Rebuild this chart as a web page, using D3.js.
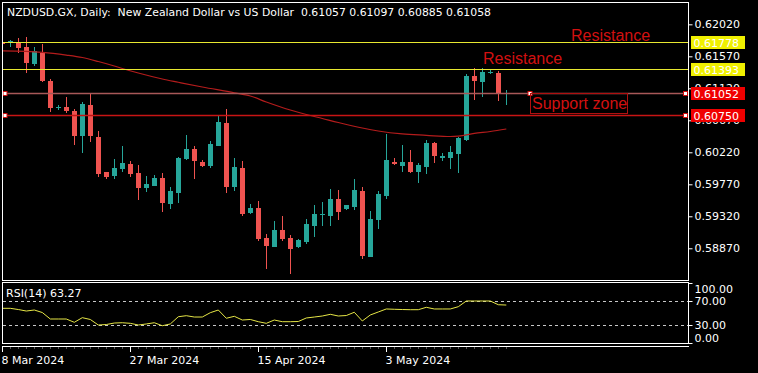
<!DOCTYPE html>
<html lang="en">
<head>
<meta charset="UTF-8">
<title>NZDUSD.GX Daily</title>
<script src="https://d3js.org/d3.v7.min.js"></script>
<style>
  body { margin: 0; background: #000; }
  svg { display: block; background: #000; }
  text { font-family: "DejaVu Sans", sans-serif; font-size: 11px; fill: #fff; }
  .note { font-family: "Liberation Sans", Arial, sans-serif; font-size: 16px; fill: #d21010; }
</style>
</head>
<body>
<svg width="758" height="373"></svg>
<script>
  // Daily sessions (broker includes Sunday candles)
  const dates = [
    "2024-03-08","2024-03-10","2024-03-11","2024-03-12","2024-03-13","2024-03-14","2024-03-15",
    "2024-03-17","2024-03-18","2024-03-19","2024-03-20","2024-03-21","2024-03-22",
    "2024-03-24","2024-03-25","2024-03-26","2024-03-27","2024-03-28","2024-03-29",
    "2024-03-31","2024-04-01","2024-04-02","2024-04-03","2024-04-04","2024-04-05",
    "2024-04-07","2024-04-08","2024-04-09","2024-04-10","2024-04-11","2024-04-12",
    "2024-04-14","2024-04-15","2024-04-16","2024-04-17","2024-04-18","2024-04-19",
    "2024-04-21","2024-04-22","2024-04-23","2024-04-24","2024-04-25","2024-04-26",
    "2024-04-28","2024-04-29","2024-04-30","2024-05-01","2024-05-02","2024-05-03",
    "2024-05-05","2024-05-06","2024-05-07","2024-05-08","2024-05-09","2024-05-10",
    "2024-05-12","2024-05-13","2024-05-14","2024-05-15","2024-05-16","2024-05-17",
    "2024-05-19","2024-05-20","2024-05-21"
  ];
  const opens = [0.61778,0.61757,0.61775,0.61697,0.61462,0.61621,0.61223,0.60843,0.60853,0.60805,0.60450,0.60885,0.60440,0.59939,0.59887,0.59986,
    0.60060,0.59934,0.59718,0.59751,0.59859,0.59493,0.59652,0.60126,0.60271,0.60088,0.60032,0.60313,0.60632,0.59737,0.60000,0.59371,
    0.59437,0.59020,0.58893,0.59128,0.59015,0.58893,0.58955,0.59184,0.59346,0.59325,0.59564,0.59427,0.59456,0.59676,0.58753,0.59268,
    0.59606,0.60088,0.60028,0.60084,0.59948,0.60018,0.60351,0.60140,0.60136,0.60196,0.60393,0.61293,0.61209,0.61331,0.61340,0.61057];
  const highs = [0.61792,0.61799,0.61832,0.61841,0.61701,0.61750,0.61251,0.60881,0.61002,0.60829,0.60932,0.61050,0.60520,0.59943,0.60126,0.60309,
    0.60094,0.60038,0.59891,0.59905,0.59934,0.59733,0.60158,0.60468,0.60309,0.60112,0.60384,0.60745,0.60829,0.60140,0.60098,0.59493,
    0.59536,0.59067,0.59259,0.59325,0.59058,0.59001,0.59283,0.59475,0.59522,0.59700,0.59690,0.59479,0.59845,0.59728,0.59395,0.59676,
    0.60478,0.60136,0.60323,0.60253,0.60066,0.60389,0.60369,0.60215,0.60309,0.60436,0.61321,0.61406,0.61399,0.61377,0.61368,0.61097];
  const lows = [0.61743,0.61701,0.61617,0.61340,0.61434,0.61202,0.60791,0.60815,0.60769,0.60323,0.60215,0.60369,0.59877,0.59849,0.59845,0.59943,
    0.59869,0.59550,0.59666,0.59747,0.59385,0.59423,0.59512,0.60116,0.59849,0.60018,0.59995,0.60309,0.59652,0.59681,0.59325,0.59353,
    0.58973,0.58580,0.58885,0.58978,0.58509,0.58871,0.58931,0.59025,0.59188,0.59184,0.59268,0.59409,0.59409,0.58724,0.58744,0.59138,
    0.59560,0.60038,0.59948,0.59925,0.59793,0.59920,0.60074,0.60102,0.59986,0.59934,0.60379,0.60949,0.61002,0.61321,0.60946,0.60885];
  const closes = [0.61750,0.61785,0.61691,0.61480,0.61645,0.61223,0.60847,0.60864,0.60801,0.60450,0.60904,0.60450,0.59915,0.59877,0.60000,0.60070,
    0.59915,0.59718,0.59775,0.59859,0.59512,0.59676,0.60144,0.60271,0.60102,0.60028,0.60337,0.60646,0.59737,0.60014,0.59346,0.59433,
    0.58997,0.58903,0.59128,0.59006,0.58861,0.58987,0.59208,0.59353,0.59353,0.59564,0.59385,0.59475,0.59690,0.58762,0.59283,0.59634,
    0.60112,0.60056,0.60084,0.59939,0.60042,0.60351,0.60168,0.60173,0.60225,0.60421,0.61293,0.61223,0.61349,0.61354,0.61058,0.61058];

  // moving average read at a few sessions
  const maIdx = [0,5,8,10,12,14,15,17,20,22,25,29,31,33,36,38,40,42,45,47,50,53,56,57,59,61,63];
  const maVal = [0.61647,0.61626,0.61588,0.61553,0.61497,0.61434,0.61399,0.61335,0.61251,0.61205,0.61138,0.61058,0.61012,0.60928,0.60815,0.60752,
    0.60696,0.60639,0.60562,0.60520,0.60478,0.60459,0.60442,0.60447,0.60485,0.60513,0.60548];

  const rsi = [57.8,57.8,55.8,53.3,55,50.8,40,40,40,34.5,42.2,39.2,30,30.8,33.3,33.8,32.8,30,31.7,33.8,28.8,31.7,43.8,45.5,43.3,43.3,50.5,55,
    41.2,44.5,38.3,39.2,35.5,32.8,38.3,35.5,35.5,35.8,41.7,43.3,45,47.8,45,45.8,51.2,36.7,46.7,51.7,56.7,56.2,55.8,55.5,55.5,59.5,56.7,56.7,
    56.7,60.5,70,70,70,70,63.8,63.27];

  const resistanceLevels = [0.61778, 0.61393];
  const supportLevels = [0.61052, 0.60750];
  const priceTicks = [0.62020, 0.61570, 0.61120, 0.60670, 0.60220, 0.59770, 0.59320, 0.58870];
  const rsiTicks = [100, 70, 30, 0];
  const rsiLevels = [70, 30];
  const tickDates = ["2024-03-08", "2024-03-27", "2024-04-15", "2024-05-03"];
  const tickLabels = ["8 Mar 2024", "27 Mar 2024", "15 Apr 2024", "3 May 2024"];
  const title = "NZDUSD.GX, Daily:  New Zealand Dollar vs US Dollar  0.61057 0.61097 0.60885 0.61058";

  const svg = d3.select("svg");
  const bull = "#26a69a", bear = "#ef5350";
  const panelL = 2, panelR = 688;

  const x = d3.scalePoint().domain(dates).range([2.3, 506.3]);
  const y = d3.scaleLinear().domain([0.58424, 0.62334]).range([280, 2]);
  const yR = d3.scaleLinear().domain([0, 100]).range([343, 283]);

  const defs = svg.append("defs");
  defs.append("clipPath").attr("id", "clipMain")
    .append("rect").attr("x", 3).attr("y", 3).attr("width", panelR - 3).attr("height", 277);
  defs.append("clipPath").attr("id", "clipRsi")
    .append("rect").attr("x", 3).attr("y", 283).attr("width", panelR - 3).attr("height", 60);

  const main = svg.append("g").attr("clip-path", "url(#clipMain)");

  // candles
  const candles = main.append("g").selectAll("g")
    .data(dates.map((d, i) => ({ d, o: opens[i], h: highs[i], l: lows[i], c: closes[i] })))
    .join("g")
    .attr("fill", k => k.c >= k.o ? bull : bear);
  candles.append("rect")
    .attr("x", k => Math.round(x(k.d)))
    .attr("width", 1)
    .attr("y", k => Math.round(y(k.h)))
    .attr("height", k => Math.max(1, Math.round(y(k.l)) - Math.round(y(k.h))));
  candles.append("rect")
    .attr("x", k => Math.round(x(k.d)) - 2)
    .attr("width", 5)
    .attr("y", k => Math.round(y(Math.max(k.o, k.c))))
    .attr("height", k => Math.max(1, Math.round(y(Math.min(k.o, k.c))) - Math.round(y(Math.max(k.o, k.c)))));

  // moving average
  main.append("path")
    .datum(maIdx.map((i, j) => [dates[i], maVal[j]]))
    .attr("fill", "none")
    .attr("stroke", "#b41c1c")
    .attr("stroke-width", 1.2)
    .attr("d", d3.line().x(p => x(p[0])).y(p => y(p[1])).curve(d3.curveMonotoneX));

  // horizontal levels
  main.selectAll("line.res").data(resistanceLevels).join("line")
    .attr("x1", panelL).attr("x2", panelR)
    .attr("y1", v => Math.round(y(v)) + 0.5).attr("y2", v => Math.round(y(v)) + 0.5)
    .attr("stroke", "#e8e830").attr("stroke-width", 1);
  main.selectAll("line.sup").data(supportLevels).join("line")
    .attr("x1", panelL).attr("x2", panelR)
    .attr("y1", v => Math.round(y(v)) + 0.5).attr("y2", v => Math.round(y(v)) + 0.5)
    .attr("stroke", (v, i) => i === 0 ? "#a85858" : "#c81414").attr("stroke-width", 1.6);

  // anchor points of the support lines
  const anchors = [];
  supportLevels.forEach(v => { anchors.push([5, v]); anchors.push([685.5, v]); });
  anchors.push([530, supportLevels[0]]);
  main.selectAll("rect.anchor").data(anchors).join("rect")
    .attr("x", a => a[0] - 2).attr("y", a => Math.round(y(a[1])) - 1.5)
    .attr("width", 4).attr("height", 4)
    .attr("fill", "#fff").attr("stroke", "#d01010").attr("stroke-width", 1);

  // annotations
  svg.append("text").attr("class", "note").attr("x", 571).attr("y", 40.5).text("Resistance");
  svg.append("text").attr("class", "note").attr("x", 483).attr("y", 63.5).text("Resistance");
  svg.append("rect").attr("x", 530.5).attr("y", 93.5).attr("width", 97).attr("height", 20)
    .attr("fill", "none").attr("stroke", "#b01010");
  svg.append("text").attr("class", "note").attr("x", 532).attr("y", 108.5).text("Support zone");

  // price axis (two ticks sit under the level boxes, as in the terminal)
  const ax = svg.append("g").attr("transform", `translate(${panelR + 0.5},0)`)
    .call(d3.axisRight(y).tickValues(priceTicks).tickSize(4).tickPadding(2).tickFormat(d3.format(".5f")));
  ax.select(".domain").remove();
  ax.selectAll("line").attr("stroke", "#fff");
  ax.selectAll("text").attr("fill", "#fff").style("font-family", "DejaVu Sans").style("font-size", "11px");

  // level price boxes
  const boxes = resistanceLevels.map(v => ({ v, bg: "#f0f000", fg: "#000" }))
    .concat(supportLevels.map(v => ({ v, bg: "#f00000", fg: "#a80000" })));
  const bx = svg.append("g").selectAll("g").data(boxes).join("g")
    .attr("transform", b => `translate(691,${Math.round(y(b.v))})`);
  bx.append("rect").attr("x", 0).attr("y", -6).attr("width", 54).attr("height", 13).attr("fill", b => b.bg);
  bx.append("text").attr("x", 2.5).attr("y", 4.5).attr("fill", b => b.fg).text(b => d3.format(".5f")(b.v));

  // RSI panel
  const rsiG = svg.append("g").attr("clip-path", "url(#clipRsi)");
  rsiG.selectAll("line.lvl").data(rsiLevels).join("line")
    .attr("x1", 3).attr("x2", panelR)
    .attr("y1", v => Math.round(yR(v)) + 0.5).attr("y2", v => Math.round(yR(v)) + 0.5)
    .attr("stroke", "#c8c8c8").attr("stroke-dasharray", "3,3");
  rsiG.append("path")
    .datum(rsi)
    .attr("fill", "none").attr("stroke", "#e6e646").attr("stroke-width", 1)
    .attr("d", d3.line().x((v, i) => x(dates[i])).y(v => yR(v)));
  svg.append("text").attr("x", 6).attr("y", 297).text("RSI(14) 63.27");

  const rax = svg.append("g").attr("transform", `translate(${panelR + 0.5},0)`)
    .call(d3.axisRight(yR).tickValues(rsiTicks).tickSize(4).tickPadding(2).tickFormat(d3.format(".2f")));
  rax.select(".domain").remove();
  rax.selectAll("line").attr("stroke", "#fff");
  rax.selectAll("text").attr("fill", "#fff").style("font-family", "DejaVu Sans").style("font-size", "11px")
    .attr("dy", v => v === 100 ? "0.85em" : v === 0 ? "-0.15em" : "0.32em");

  // panel frames
  const frame = svg.append("g").attr("stroke", "#fff").attr("fill", "none");
  frame.append("rect").attr("x", panelL + 0.5).attr("y", 2.5).attr("width", panelR - panelL).attr("height", 278);
  frame.append("rect").attr("x", panelL + 0.5).attr("y", 282.5).attr("width", panelR - panelL).attr("height", 61);
  frame.append("line").attr("x1", panelL).attr("x2", panelR + 1).attr("y1", 346.5).attr("y2", 346.5);

  // date scale
  svg.append("g").selectAll("line").data(dates).join("line")
    .attr("x1", d => Math.round(x(d)) + 0.5).attr("x2", d => Math.round(x(d)) + 0.5)
    .attr("y1", 347).attr("y2", 349)
    .attr("stroke", "#555");
  const dt = svg.append("g").selectAll("g").data(tickDates).join("g")
    .attr("transform", d => `translate(${Math.round(x(d)) + 0.5},0)`);
  dt.append("line").attr("y1", 347).attr("y2", 352).attr("stroke", "#fff");
  dt.append("text").attr("x", -1).attr("y", 364).text((d, i) => tickLabels[i]);

  // title
  svg.append("text").attr("x", 7).attr("y", 15.5)
    .style("white-space", "pre")
    .attr("textLength", 484).attr("lengthAdjust", "spacingAndGlyphs").text(title);
</script>
</body>
</html>
